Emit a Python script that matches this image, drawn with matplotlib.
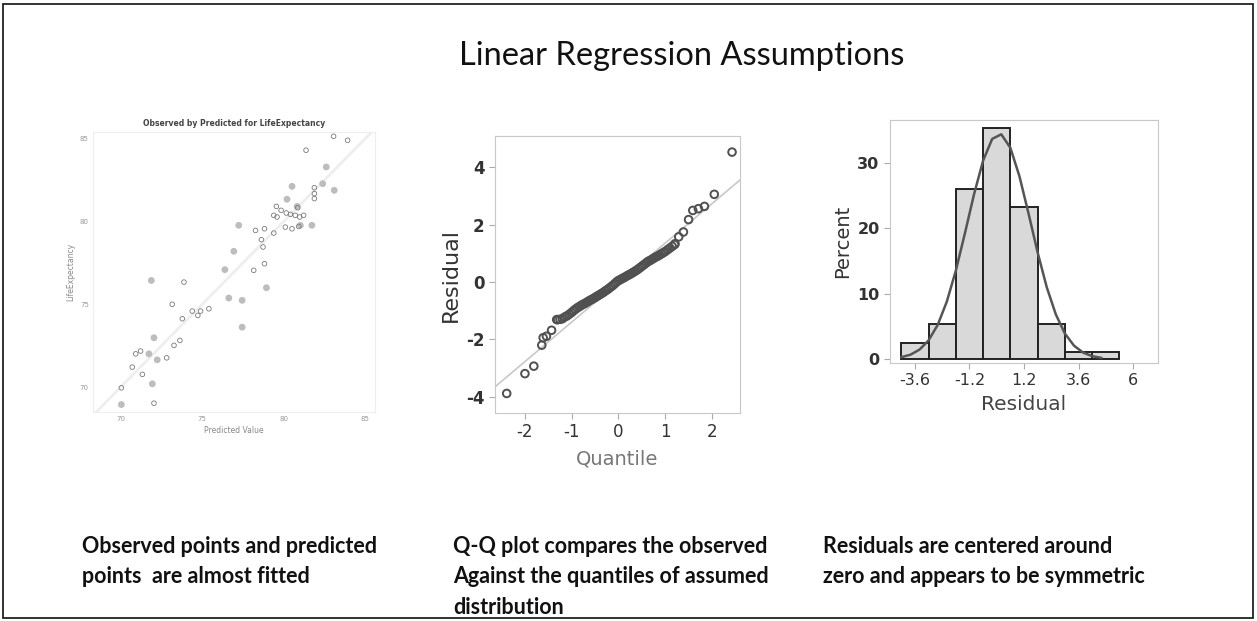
import matplotlib
matplotlib.use("Agg")
import matplotlib.pyplot as plt
from matplotlib.patches import Rectangle

plt.rcParams["axes.unicode_minus"] = False

# ---- data: observed vs predicted (left panel) ----
pred_filled = [71.88, 77.24, 76.94, 76.39, 76.63, 77.45, 77.45, 78.94, 80.51, 80.20,
               80.82, 81.02, 81.73, 82.61, 82.39, 83.10, 72.04, 71.73, 72.24, 71.94, 70.04]
obs_filled = [76.44, 79.77, 78.20, 77.09, 75.38, 75.24, 73.62, 76.00, 82.12, 81.34,
              80.91, 79.77, 79.77, 83.29, 82.28, 81.88, 72.98, 72.01, 71.65, 70.20, 68.95]
pred_open = [83.06, 83.92, 81.37, 81.88, 81.88, 81.88, 79.55, 79.84, 80.16, 80.41,
             80.71, 80.98, 81.22, 80.86, 79.39, 79.59, 80.10, 80.51, 80.92, 79.39,
             78.82, 78.27, 78.63, 78.73, 78.82, 78.16, 73.88, 73.16, 73.78, 74.39,
             74.73, 74.90, 75.41, 73.27, 73.63, 70.92, 71.22, 72.82, 70.71, 71.33,
             70.04, 72.04]
obs_open = [85.14, 84.90, 84.30, 82.04, 81.68, 81.38, 80.91, 80.67, 80.51, 80.43,
            80.37, 80.27, 80.37, 80.83, 80.37, 80.27, 79.66, 79.56, 79.70, 79.30,
            79.56, 79.46, 78.90, 78.46, 77.45, 77.05, 76.34, 75.00, 74.13, 74.59,
            74.33, 74.59, 74.73, 72.52, 72.82, 72.01, 72.18, 71.77, 71.21, 70.77,
            69.96, 69.03]
scatter_ticks = [70, 75, 80, 85]

# ---- data: Q-Q plot (middle panel) ----
quantile = [-2.39, -2.00, -1.81, -1.64, -1.61, -1.54, -1.43, -1.32,
            -1.30, -1.25, -1.20, -1.15, -1.10, -1.05, -1.00, -0.96, -0.92, -0.88,
            -0.84, -0.80, -0.76, -0.72, -0.68, -0.64, -0.60, -0.56, -0.52, -0.48,
            -0.44, -0.40, -0.36, -0.32, -0.28, -0.24, -0.20, -0.16, -0.12, -0.08,
            -0.04, 0.00, 0.04, 0.08, 0.12, 0.16, 0.20, 0.24, 0.28, 0.32, 0.36,
            0.40, 0.44, 0.48, 0.52, 0.56, 0.60, 0.64, 0.68, 0.72, 0.76, 0.80,
            0.84, 0.88, 0.92, 0.96, 1.00, 1.05, 1.10, 1.15, 1.20,
            1.21, 1.29, 1.39, 1.50, 1.59, 1.71, 1.84, 2.05, 2.43]
residual = [-3.88, -3.19, -2.93, -2.20, -1.94, -1.89, -1.68, -1.31,
            -1.31, -1.30, -1.28, -1.22, -1.18, -1.12, -1.06, -1.00, -0.95, -0.90,
            -0.86, -0.82, -0.78, -0.75, -0.71, -0.67, -0.63, -0.60, -0.56, -0.52,
            -0.48, -0.44, -0.40, -0.36, -0.31, -0.27, -0.22, -0.17, -0.12, -0.06,
            0.00, 0.05, 0.08, 0.12, 0.15, 0.19, 0.23, 0.26, 0.30, 0.34, 0.38,
            0.42, 0.47, 0.52, 0.57, 0.62, 0.67, 0.72, 0.75, 0.79, 0.83, 0.87,
            0.90, 0.94, 0.98, 1.02, 1.06, 1.12, 1.18, 1.24, 1.30,
            1.33, 1.57, 1.74, 2.17, 2.49, 2.55, 2.63, 3.05, 4.52]
qq_line_x = [-2.64, 2.60]
qq_line_y = [-3.65, 3.55]

# ---- data: residual histogram (right panel) ----
bin_centers = [-3.6, -2.4, -1.2, 0.0, 1.2, 2.4, 3.6, 4.8]
bin_percent = [2.5, 5.3, 26.1, 35.3, 23.3, 5.3, 1.1, 1.1]
curve_x = [-4.2, -3.8, -3.4, -3.0, -2.6, -2.2, -1.8, -1.4, -1.0, -0.6, -0.2, 0.2,
           0.6, 1.0, 1.4, 1.8, 2.2, 2.6, 3.0, 3.4, 3.8, 4.2, 4.6]
curve_y = [0.29, 0.67, 1.45, 2.87, 5.23, 8.78, 13.56, 19.28, 25.23, 30.39, 33.71,
           34.41, 32.34, 27.98, 22.28, 16.33, 11.02, 6.85, 3.91, 2.06, 1.00, 0.45, 0.18]
hist_xticks = [-3.6, -1.2, 1.2, 3.6, 6]
hist_yticks = [0, 10, 20, 30]

captions = [
    "Observed points and predicted\npoints  are almost fitted",
    "Q-Q plot compares the observed\nAgainst the quantiles of assumed\ndistribution",
    "Residuals are centered around\nzero and appears to be symmetric",
]

W, H = 1257, 621
fig = plt.figure(figsize=(W / 100, H / 100), dpi=100)
fig.patch.set_facecolor("white")


def box(l, t, r, b):
    return [l / W, 1 - b / H, (r - l) / W, (b - t) / H]


# outer frame
fig.patches.append(Rectangle((3 / W, 3 / H), 1 - 7 / W, 1 - 7 / H, transform=fig.transFigure,
                             fill=False, edgecolor="#222222", linewidth=1.3))

fig.text(682 / W, 1 - 56 / H, "Linear Regression Assumptions", ha="center", va="center",
         fontsize=23.5, family="Lato", color="#111111")

# left panel
ax1 = fig.add_axes(box(93, 132, 375, 412))
ax1.plot([68.3, 85.6], [68.3, 85.6], color="#eeeeee", linewidth=2, zorder=1)
ax1.scatter(pred_filled, obs_filled, s=24, color="#bdbdbd", edgecolors="none", zorder=2)
ax1.scatter(pred_open, obs_open, s=11, facecolors="none", edgecolors="#7a7a7a",
            linewidths=0.6, zorder=3)
ax1.set_xlim(68.3, 85.6)
ax1.set_ylim(68.5, 85.4)
ax1.set_xticks(scatter_ticks)
ax1.set_yticks(scatter_ticks)
ax1.tick_params(labelsize=5, colors="#999999", length=0, pad=3)
ax1.set_xlabel("Predicted Value", fontsize=5.5, color="#888888", labelpad=3)
ax1.set_ylabel("LifeExpectancy", fontsize=5.5, color="#888888", labelpad=3)
ax1.set_title("Observed by Predicted for LifeExpectancy", fontsize=5.5,
              fontweight="bold", color="#444444", pad=4)
for s in ax1.spines.values():
    s.set_color("#eeeeee")

# middle panel
ax2 = fig.add_axes(box(495, 136, 740, 413))
ax2.plot(qq_line_x, qq_line_y, color="#c8c8c8", linewidth=1.2, zorder=1)
ax2.scatter(quantile, residual, s=30, facecolors="none", edgecolors="#505050",
            linewidths=1.4, zorder=2)
ax2.set_xlim(-2.64, 2.6)
ax2.set_ylim(-4.56, 5.08)
ax2.set_xticks([-2, -1, 0, 1, 2])
ax2.set_yticks([-4, -2, 0, 2, 4])
ax2.tick_params(labelsize=12, colors="#aaaaaa", labelcolor="#333333", length=4, width=0.8)
for lab in ax2.get_yticklabels():
    lab.set_fontweight("bold")
ax2.set_xlabel("Quantile", fontsize=14, color="#777777", labelpad=6)
ax2.set_ylabel("Residual", fontsize=16, color="#333333", labelpad=4)
for s in ax2.spines.values():
    s.set_color("#c8c8c8")

# right panel
ax3 = fig.add_axes(box(890, 120, 1158, 363))
ax3.bar(bin_centers, bin_percent, width=1.2, color="#d9d9d9", edgecolor="#222222",
        linewidth=1.4, zorder=1)
ax3.plot(curve_x, curve_y, color="#555555", linewidth=1.8, zorder=2)
ax3.set_xlim(-4.7, 7.1)
ax3.set_ylim(-0.6, 36.6)
ax3.set_xticks(hist_xticks)
ax3.set_xticklabels(["-3.6", "-1.2", "1.2", "3.6", "6"])
ax3.set_yticks(hist_yticks)
ax3.tick_params(labelsize=11.5, colors="#aaaaaa", labelcolor="#333333", length=4, width=0.8)
for lab in ax3.get_yticklabels():
    lab.set_fontweight("bold")
ax3.set_xlabel("Residual", fontsize=14.5, color="#444444", labelpad=5)
ax3.set_ylabel("Percent", fontsize=14, color="#333333", labelpad=4)
for s in ax3.spines.values():
    s.set_color("#c8c8c8")

# captions
for x, txt in zip([82, 453, 823], captions):
    fig.text(x / W, 1 - 536 / H, txt, ha="left", va="top", fontsize=15.5,
             fontweight="bold", family="Lato", color="#111111", linespacing=1.55)

fig.savefig("out.png", dpi=100)
